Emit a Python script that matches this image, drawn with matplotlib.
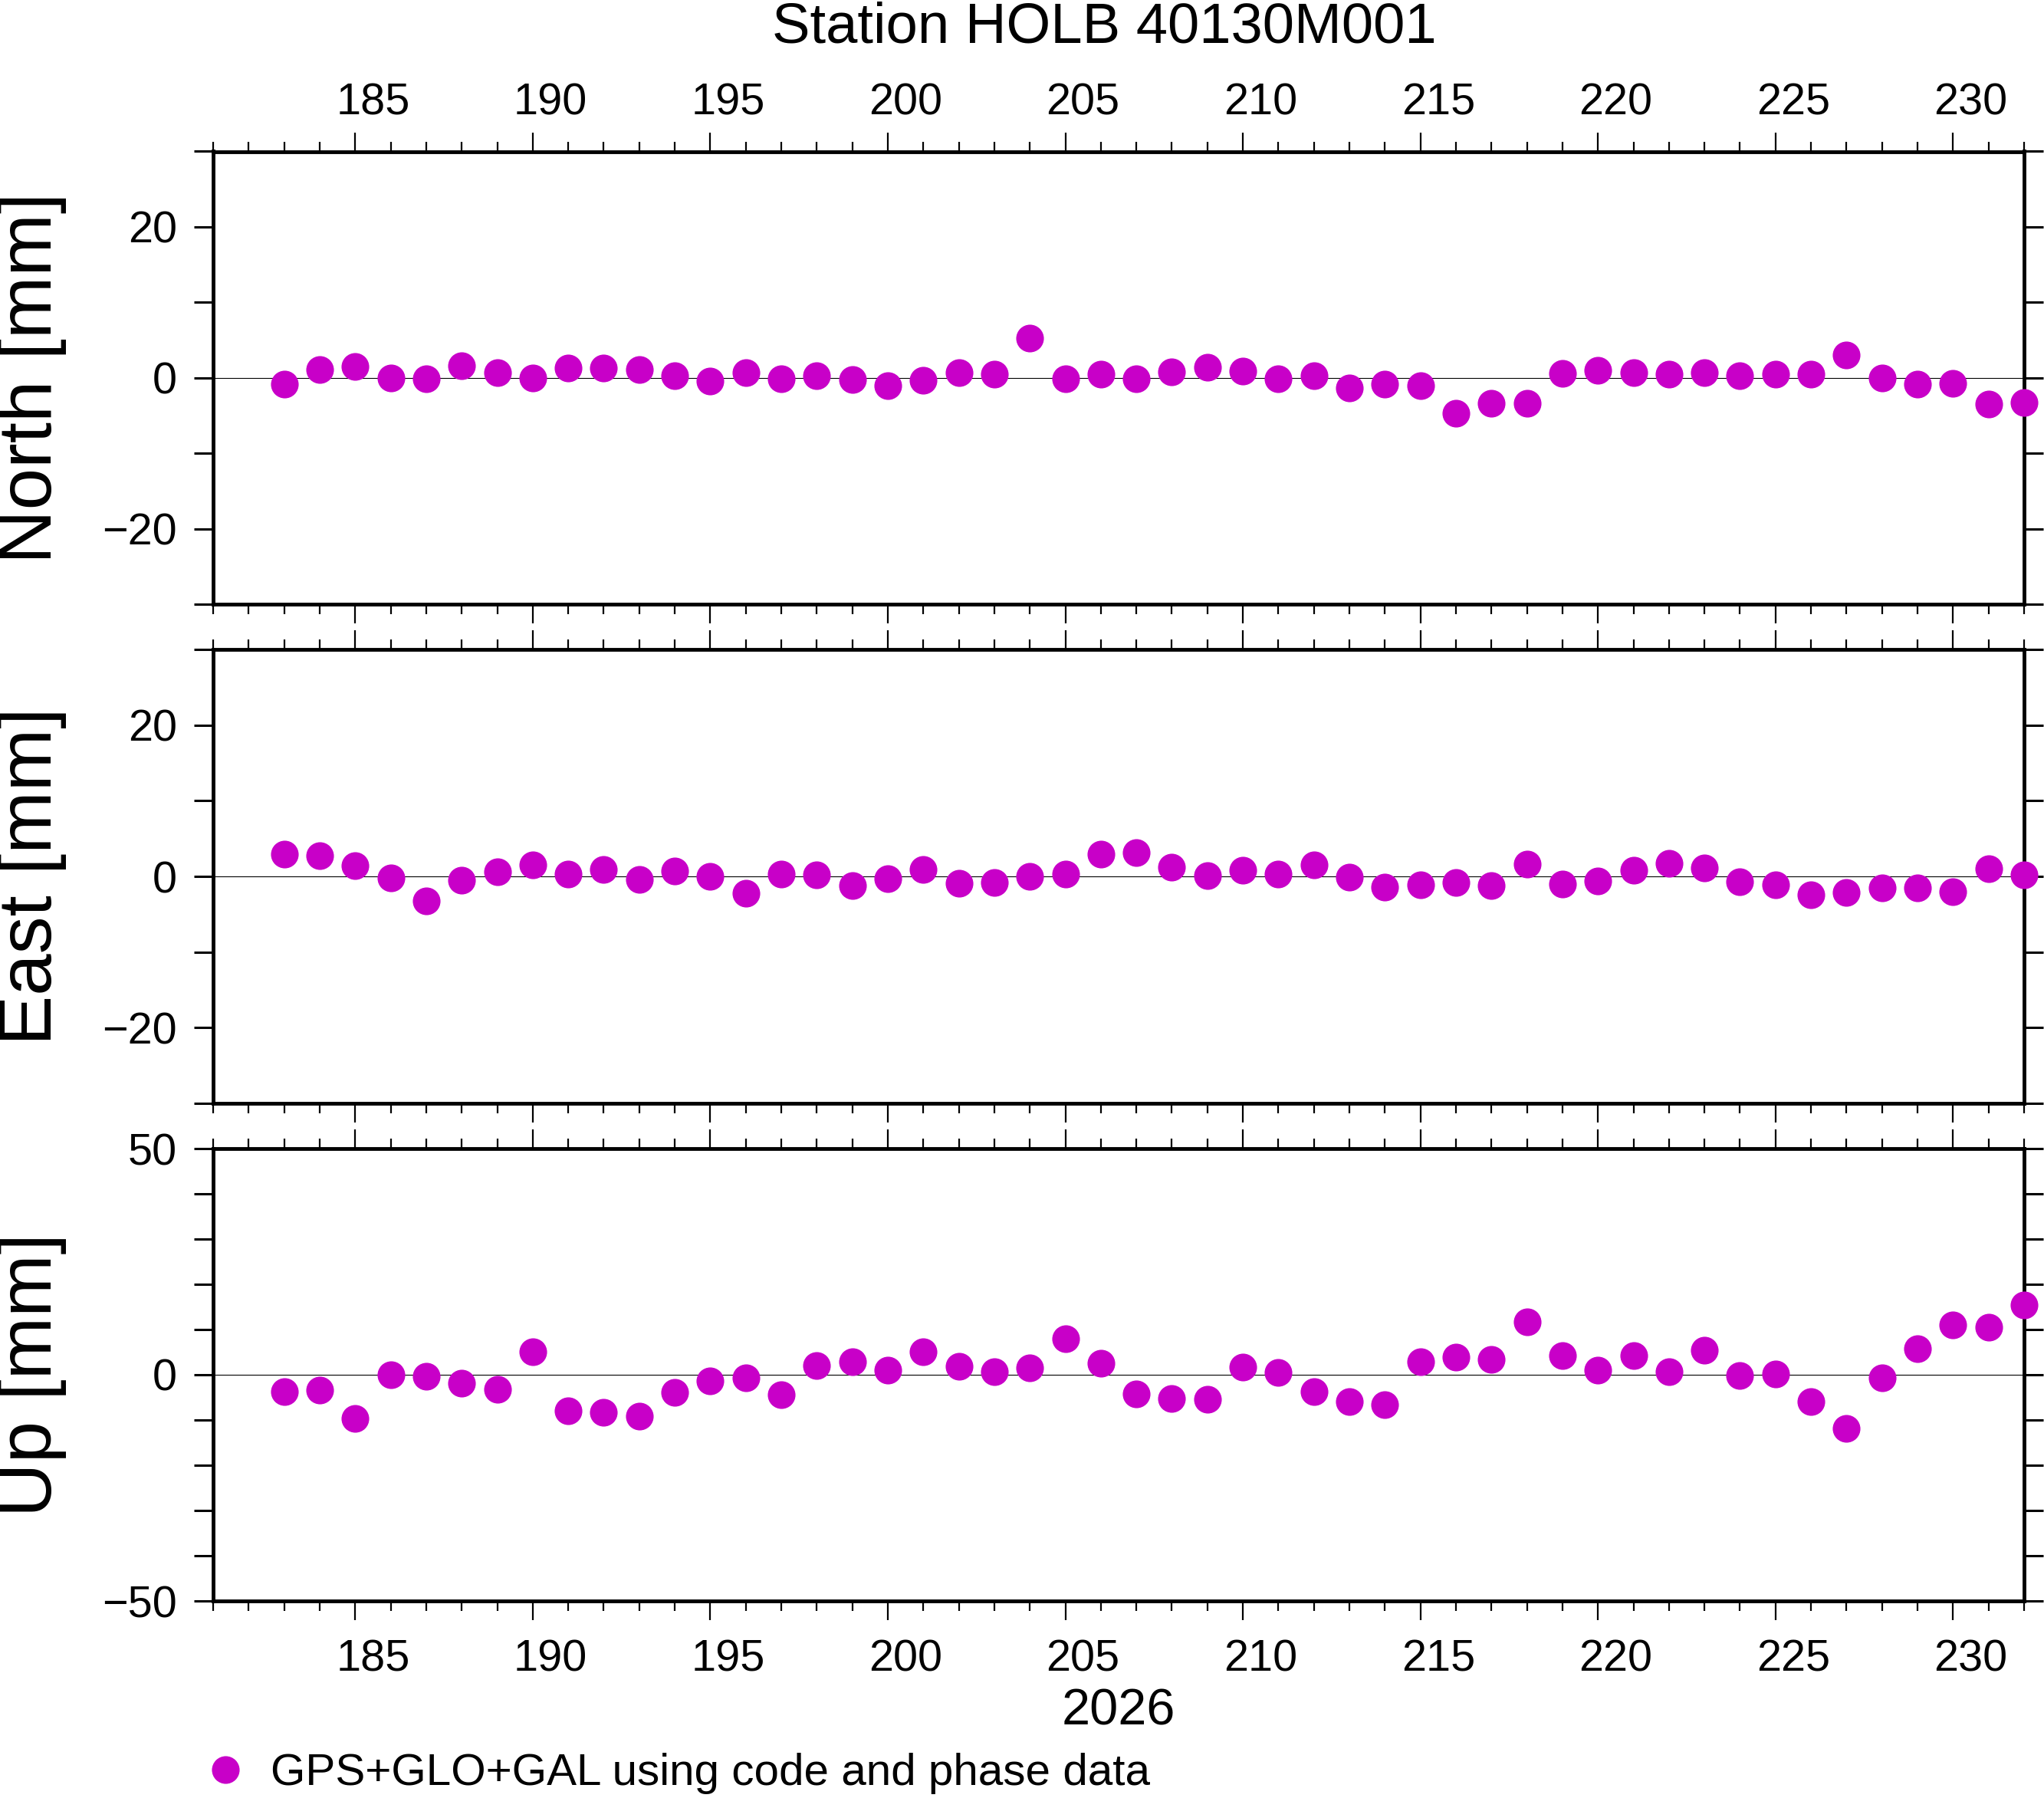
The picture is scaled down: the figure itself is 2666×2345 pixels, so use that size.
import matplotlib
matplotlib.use("Agg")
import matplotlib.pyplot as plt
from matplotlib.ticker import MultipleLocator, FixedLocator
from matplotlib.lines import Line2D
from matplotlib.transforms import ScaledTranslation

plt.rcParams['font.family'] = ['Liberation Sans', 'DejaVu Sans']

# ---------------- data ----------------
days = list(range(183, 233))
north = [-0.8, 1.1, 1.5, 0.0, -0.1, 1.6, 0.7, 0.0, 1.3, 1.3,
         1.1, 0.3, -0.4, 0.7, -0.1, 0.3, -0.2, -1.0, -0.3, 0.7,
         0.5, 5.3, -0.1, 0.5, -0.1, 0.8, 1.4, 0.9, -0.1, 0.3,
         -1.3, -0.8, -1.0, -4.7, -3.4, -3.4, 0.6, 1.0, 0.7, 0.5,
         0.7, 0.3, 0.5, 0.5, 3.0, 0.0, -0.8, -0.7, -3.5, -3.3]
east = [2.9, 2.7, 1.4, -0.2, -3.2, -0.5, 0.6, 1.5, 0.3, 0.9,
        -0.4, 0.7, 0.0, -2.2, 0.3, 0.2, -1.2, -0.3, 0.9, -0.9,
        -0.8, 0.0, 0.3, 2.9, 3.1, 1.2, 0.1, 0.8, 0.3, 1.5,
        -0.1, -1.4, -1.1, -0.8, -1.2, 1.6, -1.0, -0.6, 0.8, 1.7,
        1.1, -0.7, -1.1, -2.4, -2.1, -1.5, -1.5, -2.0, 1.0, 0.2]
up = [-3.7, -3.4, -9.6, 0.0, -0.3, -1.9, -3.2, 5.1, -8.0, -8.3,
      -9.2, -3.9, -1.4, -0.7, -4.4, 2.0, 2.9, 1.0, 5.1, 1.9,
      0.7, 1.5, 8.0, 2.5, -4.2, -5.2, -5.4, 1.7, 0.5, -3.7,
      -5.9, -6.6, 2.9, 3.9, 3.4, 11.7, 4.2, 1.0, 4.2, 0.7,
      5.4, -0.2, 0.2, -5.9, -11.9, -0.7, 5.8, 11.0, 10.5, 15.4]

panel_labels = ["North [mm]", "East [mm]", "Up [mm]"]
panel_ylims = [(-30, 30), (-30, 30), (-50, 50)]
panel_yticks = [[-20, 0, 20], [-20, 0, 20], [-50, 0, 50]]
xlim = (181, 232)
title = "Station HOLB 40130M001"
year_label = "2026"
legend_label = "GPS+GLO+GAL using code and phase data"
color = "#C800C8"

# ---------------- figure ----------------
W, H = 2666, 2345
fig = plt.figure(figsize=(W / 100, H / 100), dpi=100)

ax_left_px, ax_right_px = 278, 2640
left = ax_left_px / W
width = (ax_right_px - ax_left_px) / W
rows = [(197.5, 788), (847, 1439), (1498, 2088)]

series = [north, east, up]
axes = []
for i, ((top, bot), vals) in enumerate(zip(rows, series)):
    ax = fig.add_axes([left, 1 - bot / H, width, (bot - top) / H])
    axes.append(ax)
    ax.axhline(0, color="black", lw=0.8, zorder=1)
    ax.plot(days, vals, ls="none", marker="o", ms=26, mfc=color, mec="none",
            clip_on=False, zorder=3)
    ax.set_xlim(*xlim)
    ax.set_ylim(*panel_ylims[i])
    ax.xaxis.set_major_locator(MultipleLocator(5))
    ax.xaxis.set_minor_locator(MultipleLocator(1))
    ax.yaxis.set_major_locator(FixedLocator(panel_yticks[i]))
    ax.yaxis.set_minor_locator(MultipleLocator(10))
    for s in ax.spines.values():
        s.set_linewidth(3.5)
    ax.tick_params(axis="both", which="both", direction="out",
                   top=True, bottom=True, left=True, right=True,
                   labelsize=41.5)
    ax.tick_params(axis="x", which="major", length=18, width=1.6, pad=8)
    ax.tick_params(axis="x", which="minor", length=9.4, width=1.6)
    ax.tick_params(axis="y", which="both", length=18, width=2.2, pad=16)
    ax.tick_params(axis="x", labelbottom=(i == 2), labeltop=(i == 0))
    ax.set_ylabel(panel_labels[i], fontsize=70.5, va="center")
    ax.yaxis.set_label_coords((42 - ax_left_px) / (ax_right_px - ax_left_px), 0.5)

axes[2].set_xlabel(year_label, fontsize=48, va="baseline")
axes[2].xaxis.set_label_coords(0.5, -(2250 - 2088) / (2088 - 1498))

fig.text(1440 / W, 1 - 56 / H, title, fontsize=53.5, ha="center", va="baseline")

handle = Line2D([], [], ls="none", marker="o", ms=26, mfc=color, mec="none")
fig.legend([handle], [legend_label], loc="center left",
           bbox_to_anchor=(271 / W, 1 - 2313 / H), fontsize=42,
           frameon=False, borderpad=0, borderaxespad=0, handlelength=0.8,
           handletextpad=0.6, numpoints=1)

# day labels sit in the middle of the day interval (half a day right of the tick)
half_day_in = 0.5 * (ax_right_px - ax_left_px) / (xlim[1] - xlim[0]) / 100
for i, ax in enumerate(axes):
    for tick in ax.xaxis.get_major_ticks():
        tick.label1.set_transform(tick.label1.get_transform()
                                  + ScaledTranslation(half_day_in, -0.13, fig.dpi_scale_trans))
        tick.label2.set_transform(tick.label2.get_transform()
                                  + ScaledTranslation(half_day_in, 0, fig.dpi_scale_trans))

fig.savefig("out.png", dpi=100)
